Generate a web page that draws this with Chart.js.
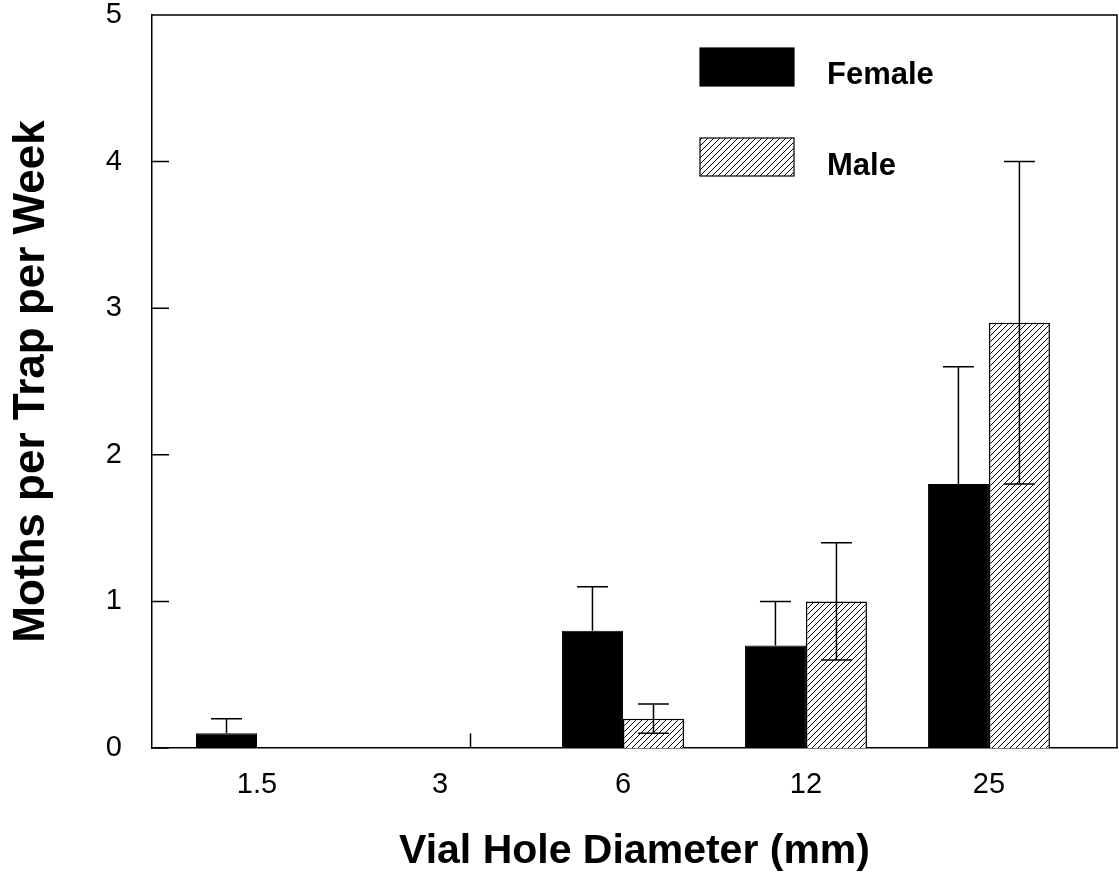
<!DOCTYPE html>
<html>
<head>
<meta charset="utf-8">
<script src="https://cdn.jsdelivr.net/npm/chart.js@4.4.1/dist/chart.umd.min.js"></script>
<style>
  body { margin: 0; background: #fff; }
  #wrap { width: 1119px; height: 879px; position: relative; }
</style>
</head>
<body>
<div id="wrap"><canvas id="chart"></canvas></div>
<script>
const categories = ["1.5", "3", "6", "12", "25"];
const female = [0.1, 0, 0.8, 0.7, 1.8];
const femaleErr = [0.1, 0, 0.3, 0.3, 0.8];
const male = [0, 0, 0.2, 1.0, 2.9];
const maleErr = [0, 0.1, 0.1, 0.4, 1.1];
const yTicks = [0, 1, 2, 3, 4, 5];

const FONT = "'Liberation Sans', Arial, sans-serif";

// diagonal hatch for the male bars
function makeHatch() {
    const n = 6;
    const c = document.createElement("canvas");
    c.width = n;
    c.height = n;
    const g = c.getContext("2d");
    g.fillStyle = "#fff";
    g.fillRect(0, 0, n, n);
    g.strokeStyle = "#000";
    g.lineWidth = 1;
    g.beginPath();
    g.moveTo(-1, n + 1); g.lineTo(n + 1, -1);
    g.moveTo(-1, 1); g.lineTo(1, -1);
    g.moveTo(n - 1, n + 1); g.lineTo(n + 1, n - 1);
    g.stroke();
    return g.createPattern(c, "repeat");
}
const hatch = makeHatch();

const toPoints = (arr) => arr.map((v, i) => ({ x: i, y: v }));

// error bars: female only upward, male both ways
const errorBars = {
    id: "errorBars",
    afterDatasetsDraw(chart) {
        const ctx = chart.ctx;
        const y = chart.scales.y;
        const sets = [
            { idx: 0, vals: female, errs: femaleErr, down: false },
            { idx: 1, vals: male, errs: maleErr, down: true },
        ];
        ctx.save();
        ctx.strokeStyle = "#000";
        ctx.lineWidth = 1.5;
        sets.forEach((s) => {
            const meta = chart.getDatasetMeta(s.idx);
            meta.data.forEach((bar, i) => {
                const e = s.errs[i];
                if (!e) return;
                const v = s.vals[i];
                const top = y.getPixelForValue(v + e);
                const bot = s.down ? y.getPixelForValue(Math.max(v - e, 0)) : y.getPixelForValue(v);
                ctx.beginPath();
                ctx.moveTo(bar.x, top);
                ctx.lineTo(bar.x, bot);
                if (v > 0) {
                    ctx.moveTo(bar.x - 15.5, top);
                    ctx.lineTo(bar.x + 15.5, top);
                    if (s.down) {
                        ctx.moveTo(bar.x - 15.5, bot);
                        ctx.lineTo(bar.x + 15.5, bot);
                    }
                }
                ctx.stroke();
            });
        });
        ctx.restore();
    },
};

// box around plot, inward y ticks, legend inside the plot
const frame = {
    id: "frame",
    afterDraw(chart) {
        const ctx = chart.ctx;
        const a = chart.chartArea;
        const y = chart.scales.y;
        ctx.save();
        ctx.strokeStyle = "#000";
        ctx.lineWidth = 1.5;
        ctx.beginPath();
        ctx.moveTo(a.left, a.top);
        ctx.lineTo(a.right, a.top);
        ctx.lineTo(a.right, a.bottom);
        yTicks.forEach((t) => {
            const py = y.getPixelForValue(t);
            ctx.moveTo(a.left, py);
            ctx.lineTo(a.left + 17, py);
        });
        ctx.stroke();

        const ds = chart.data.datasets;
        const boxes = [
            { x: 700, y: 48, ty: 75 },
            { x: 700, y: 138, ty: 166 },
        ];
        ctx.font = "bold 31px " + FONT;
        ctx.textBaseline = "middle";
        ds.forEach((d, i) => {
            const b = boxes[i];
            ctx.fillStyle = d.backgroundColor;
            ctx.fillRect(b.x, b.y, 94, 38);
            ctx.lineWidth = 1.2;
            ctx.strokeRect(b.x, b.y, 94, 38);
            ctx.fillStyle = "#000";
            ctx.fillText(d.label, 827, b.ty);
        });
        ctx.restore();
    },
};

new Chart(document.getElementById("chart"), {
    type: "bar",
    data: {
        datasets: [
            {
                label: "Female",
                data: toPoints(female),
                backgroundColor: "#000",
                borderColor: "#000",
                borderWidth: 1,
            },
            {
                label: "Male",
                data: toPoints(male),
                backgroundColor: hatch,
                borderColor: "#000",
                borderWidth: 1.5,
            },
        ],
    },
    options: {
        responsive: true,
        maintainAspectRatio: false,
        animation: false,
        categoryPercentage: 0.667,
        barPercentage: 1.0,
        layout: { padding: { top: 15, right: 2, left: 0, bottom: 0 } },
        plugins: {
            legend: { display: false },
            tooltip: { enabled: false },
        },
        scales: {
            x: {
                type: "linear",
                offset: false,
                min: -0.574,
                max: 4.70,
                afterBuildTicks: (s) => { s.ticks = categories.map((c, i) => ({ value: i })); },
                afterFit: (s) => { s.height = 131; s.paddingLeft = 0; s.paddingRight = 0; },
                grid: { display: false, drawTicks: false },
                border: { display: true, color: "#000", width: 1.5 },
                ticks: {
                    callback: (v) => categories[v],
                    color: "#000",
                    padding: 20,
                    maxRotation: 0,
                    font: { family: FONT, size: 29 },
                },
                title: {
                    display: true,
                    text: "Vial Hole Diameter (mm)",
                    color: "#000",
                    padding: { top: 0, bottom: 3 },
                    font: { family: FONT, size: 41, weight: "bold" },
                },
            },
            y: {
                min: 0,
                max: 5,
                afterBuildTicks: (s) => { s.ticks = yTicks.map((v) => ({ value: v })); },
                afterFit: (s) => { s.width = 152; s.paddingTop = 0; s.paddingBottom = 0; },
                grid: { display: false, drawTicks: false },
                border: { display: true, color: "#000", width: 1.5 },
                ticks: {
                    color: "#000",
                    padding: 30,
                    font: { family: FONT, size: 29 },
                },
                title: {
                    display: true,
                    text: "Moths per Trap per Week",
                    color: "#000",
                    padding: { top: 5, bottom: 0 },
                    font: { family: FONT, size: 44, weight: "bold" },
                },
            },
        },
    },
    plugins: [errorBars, frame],
});
</script>
</body>
</html>
